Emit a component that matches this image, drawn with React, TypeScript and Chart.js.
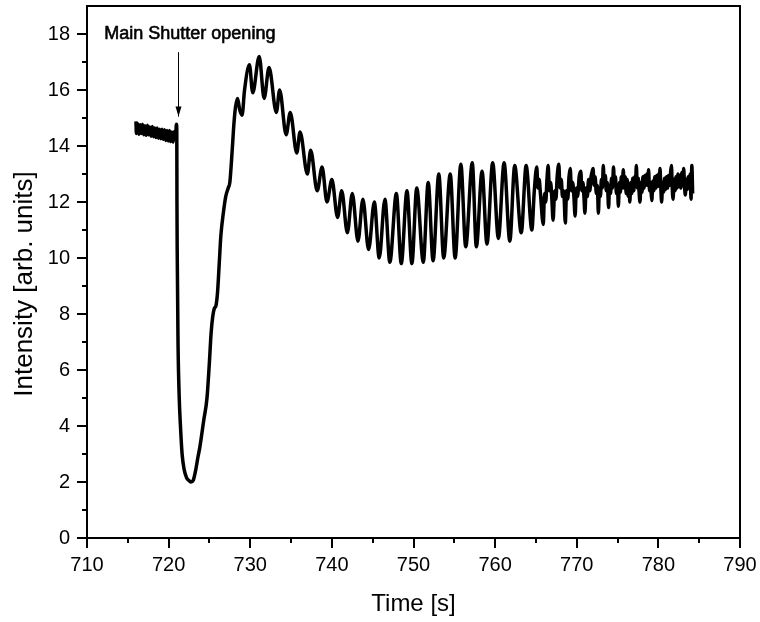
import React, { useEffect, useRef } from 'react';
import { Chart, registerables } from 'chart.js';

Chart.register(...registerables);

// ---- axis definition ----
const X_MIN = 710;
const X_MAX = 790;
const Y_MIN = 0;
const Y_MAX = 19;
const xTickLabels = [710, 720, 730, 740, 750, 760, 770, 780, 790];
const yTickLabels = [0, 2, 4, 6, 8, 10, 12, 14, 16, 18];
const xMinorTicks = [715, 725, 735, 745, 755, 765, 775, 785];
const yMinorTicks = [1, 3, 5, 7, 9, 11, 13, 15, 17];

const xTitle = 'Time [s]';
const yTitle = 'Intensity [arb. units]';

const annotationText = 'Main Shutter opening';
const annotationTextAt: [number, number] = [722.6, 18.0];
const arrowTime = 721.15;
const arrowFromTo: [number, number] = [17.35, 15.05];

// ---- data [time s, intensity] ----
const preShutter: [number, number][] = [
  [716.0, 14.88], [716.05, 14.45], [716.2, 14.8], [716.35, 14.42], [716.5, 14.76], [716.65, 14.45],
  [716.8, 14.78], [716.95, 14.4], [717.1, 14.72], [717.25, 14.38], [717.4, 14.74], [717.55, 14.4],
  [717.7, 14.68], [717.85, 14.35], [718.0, 14.7], [718.15, 14.33], [718.3, 14.64], [718.45, 14.3],
  [718.6, 14.64], [718.75, 14.28], [718.9, 14.6], [719.05, 14.26], [719.2, 14.6], [719.35, 14.24],
  [719.5, 14.58], [719.65, 14.2], [719.8, 14.55], [719.95, 14.18], [720.1, 14.55], [720.25, 14.16],
  [720.4, 14.5], [720.55, 14.14], [720.7, 14.52], [720.85, 14.28], [720.95, 14.78], [721.0, 14.6],
];

const dropRecovery: [number, number][] = [
  [721.02, 12.0], [721.05, 10.3], [721.15, 7.0], [721.3, 5.0], [721.45, 4.0], [721.65, 3.0],
  [721.9, 2.45], [722.2, 2.15], [722.5, 2.05], [722.75, 2.0], [723.0, 2.05], [723.3, 2.4],
  [723.6, 2.9], [723.8, 3.2], [724.3, 4.2], [724.7, 5.0], [725.0, 6.3], [725.2, 7.3],
  [725.4, 7.9], [725.6, 8.2], [725.8, 8.3], [726.0, 8.8], [726.2, 9.8], [726.4, 10.8],
  [726.7, 11.6], [727.0, 12.2], [727.3, 12.5], [727.5, 12.7], [727.8, 13.9], [728.0, 14.8],
  [728.2, 15.4], [728.45, 15.7], [728.7, 15.3], [729.0, 15.1], [729.3, 16.0],
];

const dampedOscillation: [number, number][] = [
  [729.9, 16.9], [730.3, 15.9], [731.1, 17.2], [731.7, 15.7], [732.3, 16.8], [733.2, 15.2],
  [733.6, 16.0], [734.4, 14.4], [734.9, 15.2], [735.7, 13.75], [736.1, 14.5], [737.0, 13.0],
  [737.4, 13.85], [738.2, 12.4], [738.8, 13.25], [739.4, 12.0], [740.0, 12.8], [740.7, 11.45],
  [741.2, 12.4], [741.9, 10.9], [742.5, 12.3], [743.2, 10.6], [743.8, 12.1], [744.5, 10.3],
  [745.2, 12.0], [745.8, 10.0], [746.5, 12.1], [747.1, 9.85], [747.9, 12.3], [748.5, 9.8],
  [749.2, 12.4], [749.8, 9.8], [750.4, 12.5], [751.2, 9.85], [751.8, 12.7], [752.4, 9.9],
  [753.1, 13.0], [753.7, 10.0], [754.5, 13.0], [755.1, 10.0], [755.8, 13.35], [756.4, 10.4],
  [757.2, 13.4], [757.7, 10.4], [758.4, 13.1], [759.0, 10.5], [759.7, 13.4], [760.4, 10.7],
  [761.1, 13.4], [761.8, 10.6], [762.4, 13.3], [763.2, 10.9], [763.8, 13.3], [764.5, 11.0],
];

const transitionBand: [number, number][] = [
  [764.8, 12.4], [765.1, 13.25], [765.25, 12.5], [765.4, 12.8], [765.55, 12.3], [765.9, 11.2],
  [766.05, 12.3], [766.2, 12.0], [766.35, 12.8], [766.5, 13.3], [766.65, 12.4], [766.8, 12.7],
  [766.95, 12.1], [767.1, 11.35], [767.3, 12.4], [767.45, 12.1], [767.6, 12.9], [767.8, 13.35],
  [767.95, 12.5], [768.1, 12.8], [768.25, 12.2], [768.4, 12.4], [768.6, 11.25], [768.75, 12.4],
  [768.9, 12.1], [769.05, 12.9], [769.2, 13.2], [769.35, 12.4], [769.5, 12.7], [769.65, 12.2],
  [769.8, 11.5], [769.95, 12.5], [770.1, 12.2], [770.3, 12.9], [770.5, 13.1], [770.62, 12.4],
  [770.75, 12.7], [770.88, 12.2], [771.0, 11.6], [771.15, 12.5], [771.3, 12.2], [771.45, 12.8],
  [771.6, 12.4], [771.75, 12.9],
];

const beatRegion: [number, number][] = [
  [771.9, 13.1], [772.0, 13.2], [772.12, 12.6], [772.25, 12.9], [772.4, 12.3], [772.52, 12.6],
  [772.65, 11.6], [772.78, 12.5], [772.9, 12.2], [773.02, 12.8], [773.14, 12.5], [773.25, 13.3],
  [773.37, 12.6], [773.5, 12.95], [773.62, 12.4], [773.75, 12.7], [773.9, 11.8], [774.02, 12.6],
  [774.14, 12.3], [774.26, 12.85], [774.38, 12.5], [774.5, 13.25], [774.62, 12.6], [774.74, 12.9],
  [774.86, 12.3], [774.98, 12.6], [775.1, 11.85], [775.22, 12.7], [775.34, 12.35], [775.46, 12.9],
  [775.58, 12.5], [775.7, 13.15], [775.82, 12.5], [775.94, 12.9], [776.06, 12.3], [776.18, 12.8],
  [776.3, 12.2], [776.42, 12.6], [776.5, 12.0], [776.62, 12.7], [776.74, 12.3], [776.86, 12.85],
  [776.98, 12.4], [777.1, 12.9], [777.2, 12.6], [777.3, 13.3], [777.42, 12.5], [777.54, 12.85],
  [777.65, 12.3], [777.75, 12.0], [777.87, 12.7], [777.99, 12.35], [778.11, 12.9], [778.23, 12.5],
  [778.35, 12.95], [778.47, 12.6], [778.6, 13.0], [778.7, 12.6], [778.8, 13.15], [778.92, 12.4],
  [779.04, 12.7], [779.12, 12.3], [779.2, 12.05], [779.32, 12.75], [779.44, 12.4], [779.56, 12.9],
  [779.68, 12.5], [779.8, 12.95], [779.92, 12.55], [780.04, 13.0], [780.12, 12.7], [780.2, 13.2],
  [780.3, 12.5], [780.4, 12.0], [780.52, 12.7], [780.64, 12.35], [780.76, 12.85], [780.88, 12.45],
  [781.0, 12.9], [781.12, 12.5], [781.24, 12.95], [781.36, 12.6], [781.48, 13.0], [781.6, 13.3],
  [781.7, 12.5], [781.8, 12.1], [781.92, 12.8], [782.04, 12.4], [782.16, 12.9], [782.28, 12.5],
  [782.4, 13.0], [782.52, 12.55], [782.64, 12.95], [782.76, 12.5], [782.88, 13.05], [783.0, 12.7],
  [783.1, 13.2], [783.2, 12.6], [783.3, 12.25], [783.42, 12.8], [783.54, 12.45], [783.66, 12.9],
  [783.78, 12.5], [783.9, 13.0], [784.0, 12.1], [784.1, 13.3], [784.2, 12.3],
];

const FONT = '"Liberation Sans", Arial, sans-serif';

const framePlugin = {
  id: 'frameTicksAnnotation',
  afterDraw(chart: any) {
    const { ctx, chartArea: a, scales } = chart;
    const x = scales.x;
    const y = scales.y;
    ctx.save();
    ctx.strokeStyle = '#000';
    ctx.lineWidth = 2;
    ctx.strokeRect(a.left, a.top, a.right - a.left, a.bottom - a.top);
    const drawX = (v: number, len: number) => {
      const px = Math.round(x.getPixelForValue(v));
      ctx.beginPath();
      ctx.moveTo(px, a.bottom);
      ctx.lineTo(px, a.bottom + len);
      ctx.stroke();
    };
    const drawY = (v: number, len: number) => {
      const py = Math.round(y.getPixelForValue(v));
      ctx.beginPath();
      ctx.moveTo(a.left, py);
      ctx.lineTo(a.left - len, py);
      ctx.stroke();
    };
    xTickLabels.forEach((v) => drawX(v, 10));
    xMinorTicks.forEach((v) => drawX(v, 5));
    yTickLabels.forEach((v) => drawY(v, 10));
    yMinorTicks.forEach((v) => drawY(v, 5));

    // y axis title (slightly below the plot centre, as in the original)
    ctx.fillStyle = '#000';
    ctx.save();
    ctx.font = `26px ${FONT}`;
    ctx.textAlign = 'center';
    ctx.textBaseline = 'middle';
    ctx.translate(25, (a.top + a.bottom) / 2 + 12);
    ctx.rotate(-Math.PI / 2);
    ctx.fillText(yTitle, 0, 0);
    ctx.restore();

    // annotation text
    ctx.font = `18px ${FONT}`;
    ctx.textAlign = 'center';
    ctx.textBaseline = 'middle';
    const tx = x.getPixelForValue(annotationTextAt[0]);
    const ty = y.getPixelForValue(annotationTextAt[1]);
    ctx.fillText(annotationText, tx, ty);
    ctx.lineWidth = 0.6;
    ctx.strokeText(annotationText, tx, ty);

    // arrow
    const ax = Math.round(x.getPixelForValue(arrowTime)) + 0.5;
    const ay1 = y.getPixelForValue(arrowFromTo[0]);
    const ay2 = y.getPixelForValue(arrowFromTo[1]);
    ctx.lineWidth = 1;
    ctx.beginPath();
    ctx.moveTo(ax, ay1);
    ctx.lineTo(ax, ay2);
    ctx.stroke();
    ctx.beginPath();
    ctx.moveTo(ax, ay2);
    ctx.lineTo(ax - 3, ay2 - 10);
    ctx.lineTo(ax + 3, ay2 - 10);
    ctx.closePath();
    ctx.fill();
    ctx.restore();
  },
};

export default function App() {
  const canvasRef = useRef<HTMLCanvasElement | null>(null);

  useEffect(() => {
    const canvas = canvasRef.current;
    if (!canvas) return;
    const series = [
      ...preShutter,
      ...dropRecovery,
      ...dampedOscillation,
      ...transitionBand,
      ...beatRegion,
    ].map(([t, v]) => ({ x: t, y: v }));
    const chart = new Chart(canvas, {
      type: 'line',
      data: {
        datasets: [
          {
            data: series,
            borderColor: '#000',
            backgroundColor: '#000',
            borderWidth: 3.5,
            pointRadius: 0,
            cubicInterpolationMode: 'monotone',
            fill: false,
          },
        ],
      },
      options: {
        responsive: false,
        animation: false,
        events: [],
        layout: { padding: { top: 6, right: 20, left: 0, bottom: 0 } },
        plugins: { legend: { display: false }, tooltip: { enabled: false } },
        scales: {
          x: {
            type: 'linear',
            min: X_MIN,
            max: X_MAX,
            grid: { display: false },
            border: { display: false },
            afterBuildTicks: (scale: any) => {
              scale.ticks = xTickLabels.map((v) => ({ value: v }));
            },
            afterFit: (scale: any) => {
              scale.height = 84;
              scale.paddingLeft = 0;
              scale.paddingRight = 0;
            },
            ticks: {
              color: '#000',
              font: { family: FONT, size: 20 },
              padding: 7,
              maxRotation: 0,
              autoSkip: false,
            },
            title: {
              display: true,
              text: xTitle,
              color: '#000',
              font: { family: FONT, size: 24 },
              padding: { top: 0, bottom: 3 },
            },
          },
          y: {
            type: 'linear',
            min: Y_MIN,
            max: Y_MAX,
            grid: { display: false },
            border: { display: false },
            afterBuildTicks: (scale: any) => {
              scale.ticks = yTickLabels.map((v) => ({ value: v }));
            },
            afterFit: (scale: any) => {
              scale.width = 87;
              scale.paddingTop = 0;
              scale.paddingBottom = 0;
            },
            ticks: {
              color: '#000',
              font: { family: FONT, size: 20 },
              padding: 9,
              autoSkip: false,
            },
            title: { display: false, text: yTitle },
          },
        },
      },
      plugins: [framePlugin],
    } as any);
    return () => chart.destroy();
  }, []);

  return (
    <div style={{ position: 'fixed', left: 0, top: 0, width: 760, height: 622, background: '#fff' }}>
      <canvas ref={canvasRef} width={760} height={622} style={{ display: 'block' }} />
    </div>
  );
}
